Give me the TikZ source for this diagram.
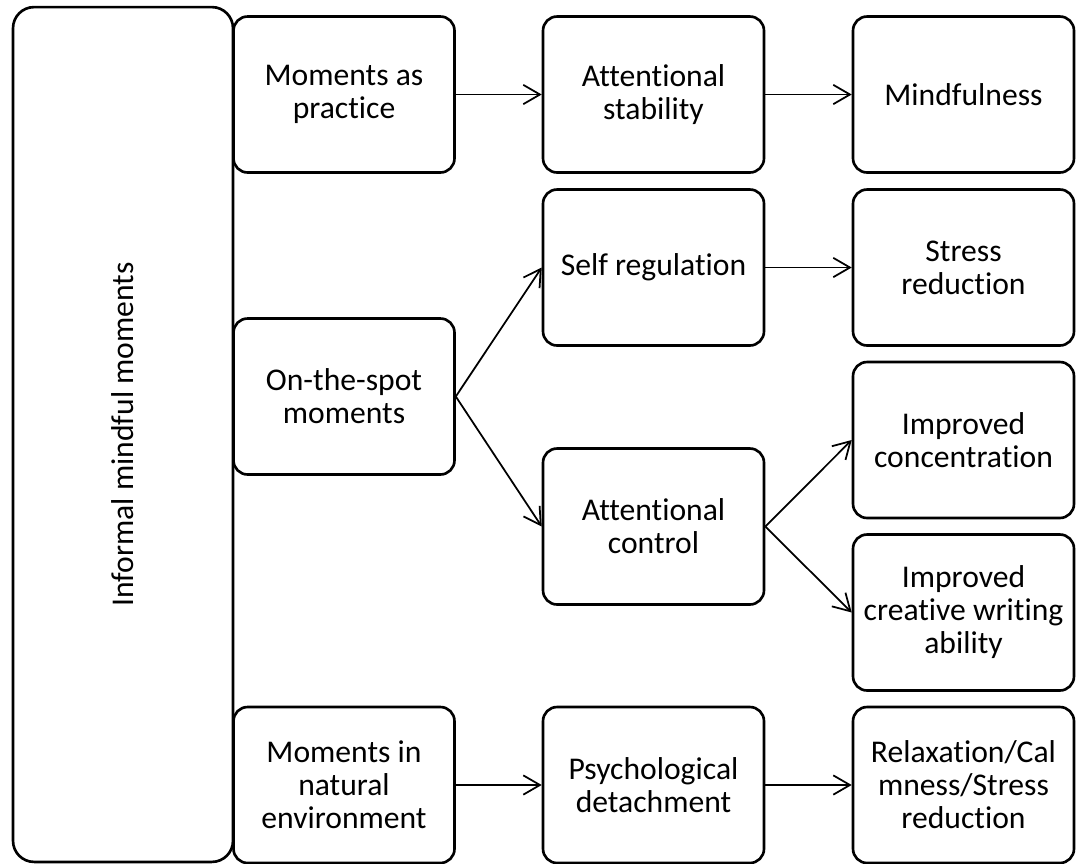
\documentclass[tikz,border=0pt]{standalone}
\usepackage{fontspec}
\setmainfont{Carlito}[Ligatures=NoCommon]
\usetikzlibrary{arrows.meta}

\begin{document}
\begin{tikzpicture}[
    x=0.02cm, y=-0.02cm,
    box/.style={draw, line width=1.5pt, rounded corners=8pt,
        minimum width=4.42cm, minimum height=3.12cm, inner sep=2pt,
        align=center, font=\fontsize{18}{18.8}\selectfont},
    outer/.style={box, rotate=90, rounded corners=12pt,
        minimum width=17.1cm, minimum height=4.4cm},
    link/.style={-{Straight Barb[length=9.5pt,width=11pt]}, line width=1pt}
]
\useasboundingbox (0,0) rectangle (1078,863);

\node[outer] (informal) at (123,434.5) {Informal mindful moments};

\node[box] (practice) at (344,94.5) {Moments as\\practice};
\node[box] (spot) at (344,396.5) {On-the-spot\\moments};
\node[box] (nature) at (344,785) {Moments in\\natural\\environment};

\node[box] (stability) at (653.5,94.5) {Attentional\\stability};
\node[box] (selfreg) at (653.5,267.5) {Self regulation};
\node[box] (control) at (653.5,526.5) {Attentional\\control};
\node[box] (detach) at (653.5,785) {Psychological\\detachment};

\node[box] (mindful) at (963.5,94.5) {Mindfulness};
\node[box] (stress) at (963.5,267.5) {Stress\\reduction};
\node[box] (concent) at (963.5,440) {Improved\\concentration};
\node[box] (creative) at (963.5,612.5) {Improved\\creative writing\\ability};
\node[box] (relax) at (963.5,785) {Relaxation/Cal\\mness/Stress\\reduction};

\draw[link] (practice.east) -- (stability.west);
\draw[link] (stability.east) -- (mindful.west);
\draw[link] (spot.east) -- (selfreg.west);
\draw[link] (spot.east) -- (control.west);
\draw[link] (selfreg.east) -- (stress.west);
\draw[link] (control.east) -- (concent.west);
\draw[link] (control.east) -- (creative.west);
\draw[link] (nature.east) -- (detach.west);
\draw[link] (detach.east) -- (relax.west);
\end{tikzpicture}
\end{document}
